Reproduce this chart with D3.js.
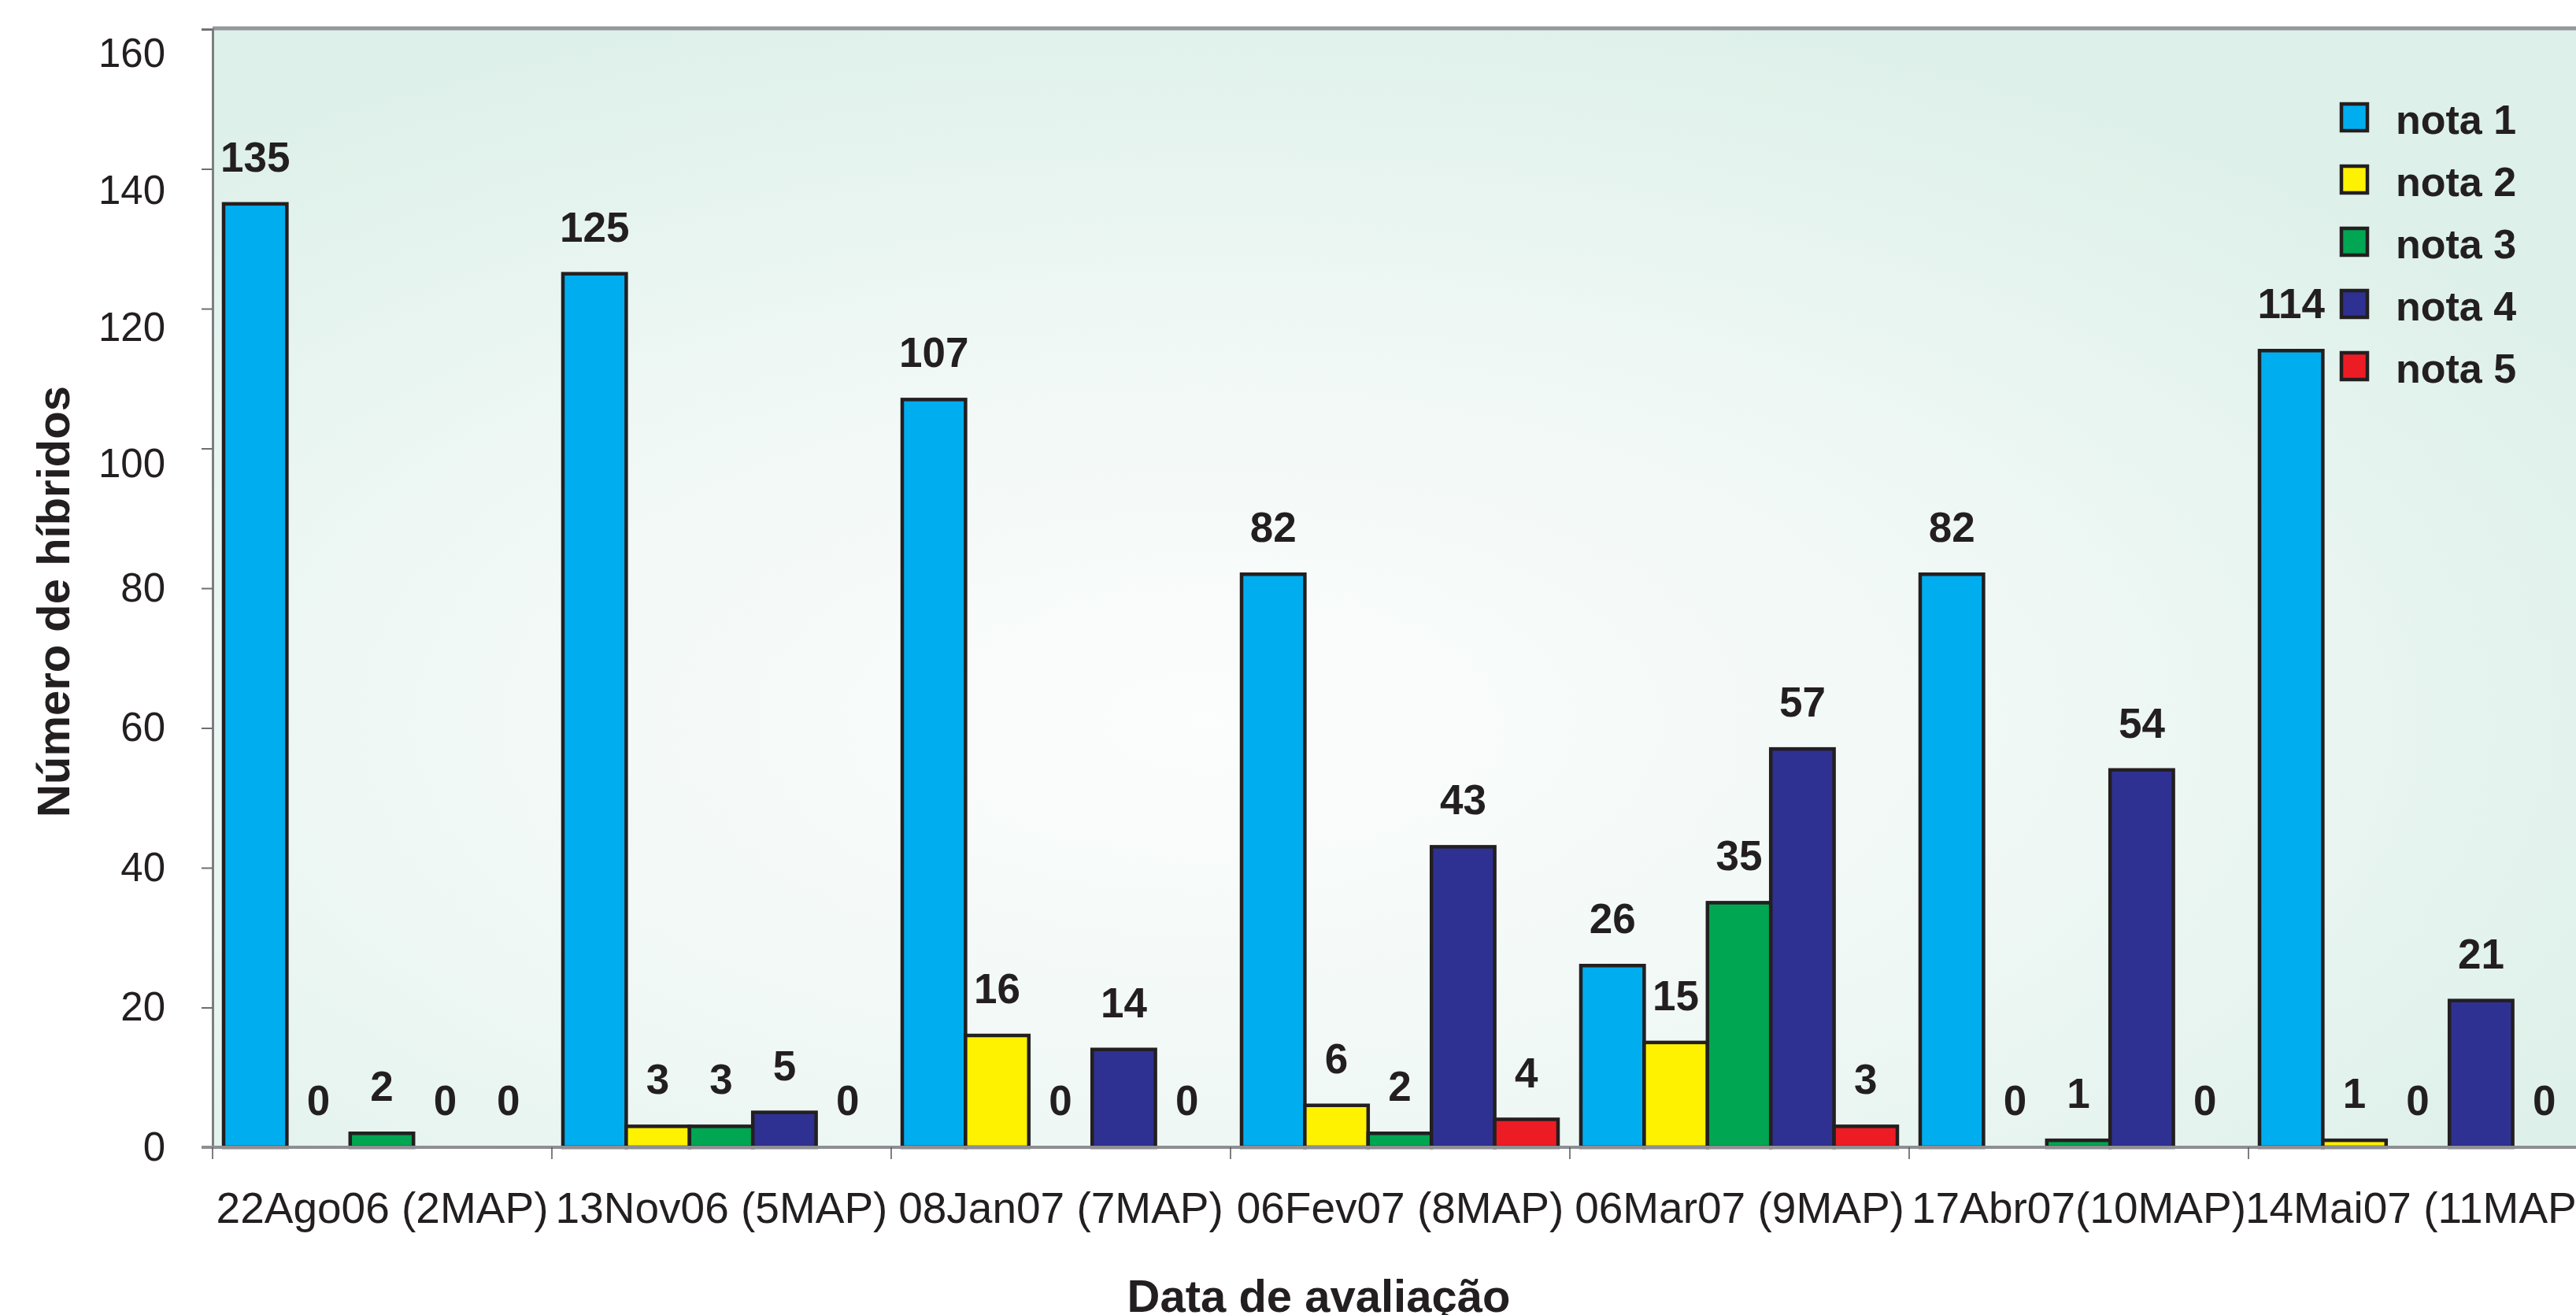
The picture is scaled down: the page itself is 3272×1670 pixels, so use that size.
<!DOCTYPE html>
<html>
<head>
<meta charset="utf-8">
<script src="https://cdn.jsdelivr.net/npm/d3@7"></script>
<style>
  html, body { margin: 0; padding: 0; background: #fff; }
  svg { display: block; font-family: "Liberation Sans", Arial, sans-serif; }
</style>
</head>
<body>
<svg width="3272" height="1670"></svg>
<script>
// categories (evaluation dates)
const dates = ["22Ago06 (2MAP)", "13Nov06 (5MAP)", "08Jan07 (7MAP)", "06Fev07 (8MAP)",
               "06Mar07 (9MAP)", "17Abr07(10MAP)", "14Mai07 (11MAP)"];
const notas = ["nota 1", "nota 2", "nota 3", "nota 4", "nota 5"];

// number of hybrids per score, one list per score
const nota1 = [135, 125, 107, 82, 26, 82, 114];
const nota2 = [0, 3, 16, 6, 15, 0, 1];
const nota3 = [2, 3, 0, 2, 35, 1, 0];
const nota4 = [0, 5, 14, 43, 57, 54, 21];
const nota5 = [0, 0, 0, 4, 3, 0, 0];

const yTicks = [0, 20, 40, 60, 80, 100, 120, 140, 160];
const colors = ["#00aeef", "#fff200", "#00a651", "#2e3192", "#ed1c24"];

const series = [nota1, nota2, nota3, nota4, nota5];
const data = dates.map((d, i) => ({date: d, values: notas.map((n, j) => ({nota: n, value: series[j][i]}))}));

const ink = "#231f20";
const plotLeft = 270, plotBottom = 1457, plotTop = 37, catW = 431;

const x0 = d3.scaleBand()
    .domain(dates)
    .range([plotLeft, plotLeft + catW * dates.length]);

const x1 = d3.scaleBand()
    .domain(notas)
    .range([14, catW - 15]);

const y = d3.scaleLinear()
    .domain([0, 160])
    .range([plotBottom, plotTop]);

const color = d3.scaleOrdinal().domain(notas).range(colors);

const svg = d3.select("svg");

// background gradient of the plot area
const defs = svg.append("defs");
const grad = defs.append("radialGradient")
    .attr("id", "bg")
    .attr("cx", 0.42).attr("cy", 0.62).attr("r", 0.68);
grad.append("stop").attr("offset", "0%").attr("stop-color", "#fcfdfd");
grad.append("stop").attr("offset", "50%").attr("stop-color", "#f0f8f5");
grad.append("stop").attr("offset", "100%").attr("stop-color", "#ddf0e9");

svg.append("rect")
    .attr("x", plotLeft)
    .attr("y", plotTop)
    .attr("width", catW * dates.length)
    .attr("height", plotBottom - plotTop)
    .attr("fill", "url(#bg)");

// top border
svg.append("line")
    .attr("x1", plotLeft).attr("x2", plotLeft + catW * dates.length)
    .attr("y1", plotTop - 1).attr("y2", plotTop - 1)
    .attr("stroke", "#96979b")
    .attr("stroke-width", 5);

// y axis
const yAxis = svg.append("g")
    .attr("transform", `translate(${plotLeft},0)`)
    .call(d3.axisLeft(y).tickValues(yTicks).tickSize(14).tickPadding(46));
yAxis.select(".domain").attr("stroke", "#7d7e82").attr("stroke-width", 3);
yAxis.selectAll(".tick line").attr("stroke", "#6d6e71").attr("stroke-width", 2);
yAxis.selectAll(".tick text")
    .attr("fill", ink)
    .style("font-size", "51px")
    .attr("dy", d => d >= 100 ? (20 + (d - 100) * 0.19) + 0.32 * 51 : "0.32em");

// bars
const groups = svg.append("g")
  .selectAll("g")
  .data(data)
  .join("g")
    .attr("transform", d => `translate(${x0(d.date)},0)`);

groups.selectAll("rect")
  .data(d => d.values.filter(v => v.value > 0))
  .join("rect")
    .attr("x", d => x1(d.nota))
    .attr("y", d => y(d.value))
    .attr("width", x1.bandwidth())
    .attr("height", d => y(0) - y(d.value))
    .attr("fill", d => color(d.nota))
    .attr("stroke", ink)
    .attr("stroke-width", 4.5);

groups.selectAll("text")
  .data(d => d.values)
  .join("text")
    .attr("x", d => x1(d.nota) + x1.bandwidth() / 2)
    .attr("y", d => y(d.value) - 41)
    .attr("text-anchor", "middle")
    .attr("fill", ink)
    .style("font-size", "53px")
    .style("font-weight", "bold")
    .text(d => d.value);

// x axis
const xAxis = svg.append("g")
    .attr("transform", `translate(0,${plotBottom})`)
    .call(d3.axisBottom(x0).tickSize(0));
xAxis.select(".domain").remove();
xAxis.selectAll(".tick text")
    .attr("y", 96)
    .attr("dy", null)
    .attr("fill", ink)
    .style("font-size", "55px");

xAxis.append("line")
    .attr("x1", plotLeft - 14).attr("x2", plotLeft + catW * dates.length)
    .attr("stroke", "#8e8f92")
    .attr("stroke-width", 4);

xAxis.selectAll(".sep")
  .data(dates)
  .join("line")
    .attr("class", "sep")
    .attr("x1", d => x0(d)).attr("x2", d => x0(d))
    .attr("y1", 0).attr("y2", 15)
    .attr("stroke", "#555")
    .attr("stroke-width", 1.5);

// axis titles
svg.append("text")
    .attr("transform", "translate(88,764) rotate(-90)")
    .attr("text-anchor", "middle")
    .attr("fill", ink)
    .style("font-size", "58px")
    .style("font-weight", "bold")
    .text("Número de híbridos");

svg.append("text")
    .attr("x", 1675)
    .attr("y", 1666)
    .attr("text-anchor", "middle")
    .attr("fill", ink)
    .style("font-size", "58px")
    .style("font-weight", "bold")
    .text("Data de avaliação");

// legend
const legend = svg.append("g")
  .selectAll("g")
  .data(notas)
  .join("g")
    .attr("transform", (d, i) => `translate(2974,${132 + i * 79})`);

legend.append("rect")
    .attr("width", 33)
    .attr("height", 34)
    .attr("fill", d => color(d))
    .attr("stroke", ink)
    .attr("stroke-width", 4.5);

legend.append("text")
    .attr("x", 69)
    .attr("y", 38)
    .attr("fill", ink)
    .style("font-size", "52px")
    .style("font-weight", "bold")
    .text(d => d);
</script>
</body>
</html>
